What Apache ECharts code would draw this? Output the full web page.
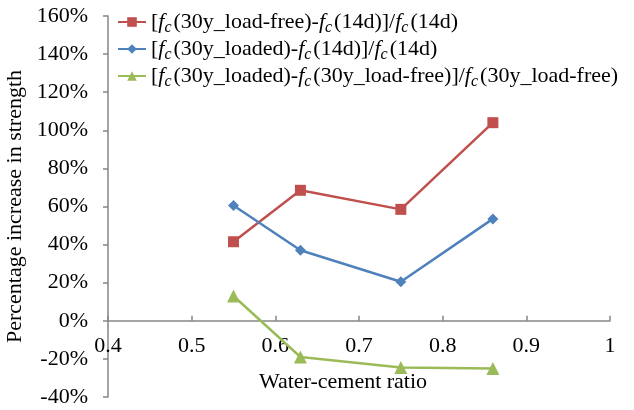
<!DOCTYPE html>
<html>
<head>
<meta charset="utf-8">
<script src="https://cdn.jsdelivr.net/npm/echarts@6/dist/echarts.min.js"></script>
<style>
  html, body { margin: 0; padding: 0; background: #fff; }
  #chart { width: 634px; height: 410px; }
</style>
</head>
<body>
<div id="chart"></div>
<script>
const ratios = [0.55, 0.63, 0.75, 0.86];
const loadFreeVs14d = [41.5, 68.5, 58.5, 104];
const loadedVs14d = [60.5, 37, 20.5, 53.5];
const loadedVsLoadFree = [13, -19, -24.5, -25];
const seriesNames = [
  '[{i|f}{s|c}(30y_load-free)-{i|f}{s|c}(14d)]/{i|f}{s|c}(14d)',
  '[{i|f}{s|c}(30y_loaded)-{i|f}{s|c}(14d)]/{i|f}{s|c}(14d)',
  '[{i|f}{s|c}(30y_loaded)-{i|f}{s|c}(30y_load-free)]/{i|f}{s|c}(30y_load-free)',
];

const FONT = '"Liberation Serif", "DejaVu Serif", serif';
const AXIS_COLOR = '#868686';

function pairs(values) {
  return ratios.map((x, i) => [x, values[i]]);
}

function lineSeries(name, values, color, symbol, size) {
  return {
    name,
    type: 'line',
    data: pairs(values),
    symbol,
    symbolSize: size,
    lineStyle: { color, width: 2.5 },
    itemStyle: { color },
    emphasis: { disabled: true },
  };
}

const chart = echarts.init(document.getElementById('chart'));
chart.setOption({
  animation: false,
  backgroundColor: '#fff',
  textStyle: { fontFamily: FONT, color: '#000' },
  grid: { left: 108, right: 24, top: 16, bottom: 13, outerBoundsMode: 'none' },
  legend: {
    left: 112,
    top: 6,
    orient: 'vertical',
    itemGap: 2,
    itemWidth: 28,
    itemHeight: 12,
    selectedMode: false,
    textStyle: {
      fontFamily: FONT,
      fontSize: 22,
      color: '#000',
      rich: {
        i: { fontFamily: FONT, fontSize: 22, fontStyle: 'italic', color: '#000' },
        s: { fontFamily: FONT, fontSize: 16, fontStyle: 'italic', color: '#000', padding: [12, 2, 0, 0] },
      },
    },
  },
  xAxis: {
    type: 'value',
    min: 0.4,
    max: 1,
    interval: 0.1,
    name: 'Water-cement ratio',
    nameLocation: 'middle',
    nameGap: -26,
    nameTextStyle: { fontFamily: FONT, fontSize: 22, color: '#000', padding: [0, 32, 0, 0] },
    axisLine: { onZero: true, lineStyle: { color: AXIS_COLOR, width: 1.5 } },
    axisTick: { show: true, inside: true, length: 5, lineStyle: { color: AXIS_COLOR, width: 1.5 } },
    axisLabel: {
      margin: -62,
      fontFamily: FONT,
      fontSize: 22,
      color: '#000',
    },
    splitLine: { show: false },
  },
  yAxis: {
    type: 'value',
    min: -40,
    max: 160,
    interval: 20,
    name: 'Percentage increase in strength',
    nameLocation: 'middle',
    nameGap: 80,
    nameTextStyle: { fontFamily: FONT, fontSize: 22, color: '#000' },
    axisLine: { show: true, onZero: false, lineStyle: { color: AXIS_COLOR, width: 1.5 } },
    axisTick: { show: true, length: 5, lineStyle: { color: AXIS_COLOR, width: 1.5 } },
    axisLabel: {
      margin: 20,
      fontFamily: FONT,
      fontSize: 22,
      color: '#000',
      formatter: '{value}%',
    },
    splitLine: { show: false },
  },
  series: [
    lineSeries(seriesNames[0], loadFreeVs14d, '#C0504D', 'rect', 11),
    lineSeries(seriesNames[1], loadedVs14d, '#4F81BD', 'diamond', 11),
    lineSeries(seriesNames[2], loadedVsLoadFree, '#9BBB59', 'triangle', 13),
  ],
});
</script>
</body>
</html>
